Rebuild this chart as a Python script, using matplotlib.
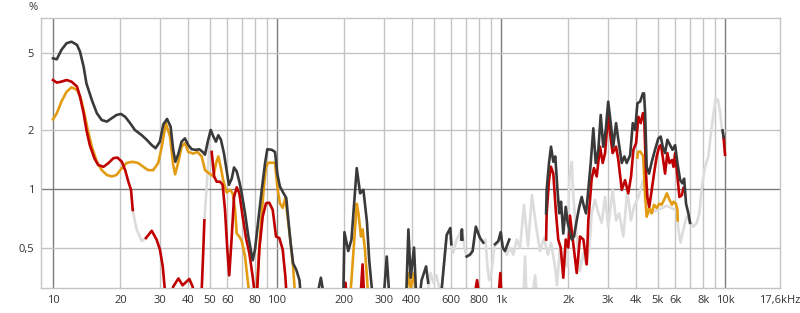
import numpy as np
import matplotlib
matplotlib.use("Agg")
from matplotlib import pyplot as plt

nan = np.nan

# total distortion (dark)
thd_f = [10, 10.4, 10.9, 11.5, 12.1, 12.8, 13.2, 13.7, 14.1, 14.9, 15.7, 16.5, 17.4, 18.3, 19.2,
         20.1, 21.0, 22.1, 23.2, 24.9, 26.2, 27.6, 28.7, 30.0, 31.1, 32.3, 33.5, 34.4, 35.2, 36.3,
         37.5, 38.8, 40.2, 41.6, 43.5, 45.0, 46.6, 47.7, 49.3, 50.6, 52.0, 53.4, 54.7, 56.2, 58.0,
         59.6, 61.0, 62.8, 64.3, 66.1, 67.9, 69.6, 72.0, 74.5, 76.3, 77.9, 79.8, 82.5, 85.5, 88.4,
         90.5, 94.7, 98.0, 100.3, 103, 107, 110, 112, 115, 118, 122, 126, 128,
         nan, 150, 157, 163,
         nan, 194, 198, 200, 208, 215, 227, 235, 243, 252, 258, 265, 268,
         nan, 299, 309, 318,
         nan, 377, 386, 395, 409, 417, 419,
         nan, 432, 442, 463, 473,
         nan, 535, 544, 572, 594, 600,
         nan, 664, 669, 673,
         nan, 703, 727, 747, 772, 806, 834,
         nan, 940, 973, 997, 1018, 1042, 1089,
         nan, 1590, 1599, 1638, 1672, 1712, 1747, 1783, 1820, 1853, 1897, 1945, 1985, 2069, 2118,
         2178, 2236, 2292, 2348, 2396, 2454, 2515, 2583, 2647, 2720, 2787, 2860, 2935, 3010, 3090,
         3170, 3263, 3340, 3460, 3555, 3640, 3770, 3876, 3970, 4065, 4177, 4300, 4350, 4400, 4470,
         4580, 4710, 4870, 5040, 5165, 5270, 5400, 5530, 5690, 5830, 5990, 6130, 6310, 6450, 6570,
         6700, 6860, 6980,
         nan, 9750, 9850]
thd_v = [4.69, 4.64, 5.18, 5.61, 5.71, 5.50, 5.08, 4.25, 3.49, 2.87, 2.45, 2.26, 2.22, 2.31, 2.40,
         2.43, 2.35, 2.18, 2.01, 1.89, 1.79, 1.68, 1.62, 1.75, 2.15, 2.29, 2.09, 1.59, 1.38, 1.52,
         1.75, 1.82, 1.68, 1.60, 1.59, 1.60, 1.55, 1.50, 1.79, 2.01, 1.86, 1.75, 1.89, 1.79, 1.52,
         1.25, 1.05, 1.13, 1.29, 1.23, 1.09, 0.95, 0.75, 0.57, 0.49, 0.43, 0.49, 0.69, 0.99, 1.35,
         1.60, 1.59, 1.55, 1.20, 1.03, 0.95, 0.90, 0.72, 0.53, 0.415, 0.384, 0.34, 0.27,
         nan, 0.27, 0.35, 0.27,
         nan, 0.27, 0.31, 0.60, 0.48, 0.55, 1.28, 0.95, 0.99, 0.68, 0.43, 0.31, 0.27,
         nan, 0.27, 0.45, 0.27,
         nan, 0.27, 0.62, 0.35, 0.50, 0.31, 0.27,
         nan, 0.27, 0.34, 0.40, 0.33,
         nan, 0.27, 0.31, 0.58, 0.63, 0.52,
         nan, 0.55, 0.62, 0.55,
         nan, 0.45, 0.46, 0.48, 0.64, 0.56, 0.53,
         nan, 0.52, 0.54, 0.60, 0.50, 0.48, 0.55,
         nan, 0.75, 0.99, 1.36, 1.65, 1.38, 1.47, 1.03, 0.75, 0.86, 0.59, 0.81, 0.67, 0.55, 0.57,
         0.69, 0.81, 0.91, 0.81, 0.75, 0.99, 1.36, 2.05, 1.36, 1.59, 2.40, 1.65, 2.01, 2.81, 2.18,
         1.65, 2.18, 1.79, 1.36, 1.47, 1.36, 1.49, 2.18, 2.01, 2.76, 2.81, 3.10, 3.10, 2.45, 1.30,
         1.20, 1.38, 1.59, 1.82, 1.86, 1.65, 1.53, 1.79, 1.68, 1.59, 1.68, 1.36, 1.11, 1.07, 1.13,
         0.84, 0.75, 0.67,
         nan, 2.0, 1.85]

# 2nd harmonic (red)
k2_f = [10, 10.4, 10.9, 11.5, 12.1, 12.8, 13.2, 13.7, 14.1, 14.6, 15.3, 15.9, 16.8, 17.7, 18.6,
        19.4, 20.3, 21.0, 21.7, 22.3, 22.7,
        nan, 26.0, 27.6, 29.0, 30.0, 30.9, 31.6, 32.0,
        nan, 33.8, 34.4, 36.3, 37.9, 40.6, 42.0, 42.8,
        nan, 46.1, 46.9, 47.4,
        nan, 51.1, 52.4, 53.8, 55.7, 57.2, 58.6, 60.0, 61.2, 62.8, 64.3, 66.1, 67.9, 70.3, 72.7,
        75.2, 77.9, 79.5, 81.4, 83.4, 86.3, 89.3, 92.4, 95.7, 99.0, 102.4, 106, 109, 110, 111,
        nan, 200, 202, 205,
        nan, 236, 241, 245,
        nan, 760, 782, 800,
        nan, 975, 993, 1005,
        nan, 1590, 1599, 1638, 1672, 1712, 1760, 1801, 1847, 1897, 1945, 1997, 2032, 2178, 2253,
        2332, 2413, 2454, 2540, 2600, 2675, 2767, 2845, 2915, 3010, 3070, 3150, 3263, 3340, 3460,
        3580, 3700, 3807, 3900, 4009, 4105, 4205, 4300, 4350, 4400, 4440, 4500, 4590, 4710, 4820,
        4955, 5080, 5180, 5270, 5400, 5530, 5650, 5800, 5890, 5990, 6130, 6260, 6420, 6520,
        nan, 9850, 10000]
k2_v = [3.63, 3.52, 3.56, 3.63, 3.56, 3.36, 2.98, 2.45, 2.01, 1.68, 1.44, 1.33, 1.30, 1.36, 1.44,
        1.45, 1.38, 1.25, 1.09, 0.99, 0.78,
        nan, 0.56, 0.61, 0.55, 0.49, 0.40, 0.30, 0.27,
        nan, 0.28, 0.315, 0.347, 0.32, 0.345, 0.315, 0.28,
        nan, 0.30, 0.49, 0.69,
        nan, 1.55, 1.16, 1.09, 1.09, 1.05, 0.78, 0.49, 0.36, 0.57, 0.91, 1.02, 0.95, 0.72, 0.56,
        0.47, 0.354, 0.29, 0.29, 0.49, 0.72, 0.845, 0.85, 0.78, 0.57, 0.56, 0.49, 0.354, 0.30, 0.27,
        nan, 0.28, 0.33, 0.28,
        nan, 0.28, 0.41, 0.28,
        nan, 0.28, 0.34, 0.28,
        nan, 0.28, 0.37, 0.28,
        nan, 0.55, 0.75, 1.11, 1.30, 1.20, 0.75, 0.55, 0.50, 0.35, 0.55, 0.50, 0.73, 0.37, 0.57,
        0.55, 0.41, 0.69, 1.13, 1.28, 1.16, 1.65, 1.36, 1.53, 2.45, 1.93, 1.53, 1.65, 1.41, 0.99,
        1.11, 0.95, 1.16, 1.59, 1.72, 2.35, 2.18, 2.45, 2.45, 1.65, 1.20, 0.91, 0.81, 0.99, 1.20,
        1.47, 1.65, 1.68, 1.47, 1.20, 1.53, 1.36, 1.41, 1.30, 1.53, 1.16, 0.91, 0.93, 1.01,
        nan, 1.85, 1.5]

# 3rd harmonic (orange)
k3_f = [10, 10.4, 10.9, 11.5, 12.1, 12.8, 13.3, 13.8, 14.3, 14.9, 15.7, 16.5, 17.4, 18.3, 19.2,
        20.3, 21.3, 22.6, 24.0, 25.3, 26.6, 28.0, 29.5, 30.6, 31.9, 33.3, 34.4, 35.1, 36.3, 37.5,
        38.8, 40.2, 42.3, 44.1, 46.1, 47.7, 49.9, 52.0, 53.4, 54.7, 56.2, 57.5, 59.6, 61.7, 63.4,
        65.0, 66.1, 67.9, 69.6, 72.0, 73.7, 75.2, 81.1, 84.0, 86.9, 89.3, 91.4, 98.0, 100.3, 103,
        106, 109, 112, 115, 118, 120, 121,
        nan, 212, 215, 227, 231, 237, 241, 247, 253, 255,
        nan, 378, 386, 395, 409, 417,
        nan, 4060, 4090, 4177, 4310, 4400, 4470, 4590, 4710, 4820, 4955, 5090, 5210, 5350, 5500,
        5650, 5800, 5890, 6040, 6130, 6150]
k3_v = [2.28, 2.45, 2.81, 3.16, 3.33, 3.23, 2.93, 2.45, 2.01, 1.65, 1.38, 1.25, 1.18, 1.16, 1.18,
        1.28, 1.36, 1.38, 1.36, 1.30, 1.25, 1.25, 1.36, 1.65, 2.18, 1.86, 1.33, 1.19, 1.38, 1.65,
        1.72, 1.55, 1.52, 1.55, 1.47, 1.25, 1.20, 1.16, 1.35, 1.47, 1.28, 1.11, 0.96, 0.99, 0.95,
        0.78, 0.59, 0.57, 0.54, 0.45, 0.354, 0.29, 0.29, 0.57, 0.95, 1.30, 1.365, 1.365, 1.03, 0.845,
        0.80, 0.90, 0.69, 0.53, 0.40, 0.30, 0.27,
        nan, 0.28, 0.34, 0.84, 0.75, 0.57, 0.62, 0.49, 0.33, 0.28,
        nan, 0.28, 0.37, 0.31, 0.37, 0.28,
        nan, 1.45, 1.55, 1.56, 1.48, 0.91, 0.72, 0.80, 0.75, 0.83, 0.80, 0.84, 0.83, 0.88, 0.95,
        0.88, 0.83, 0.86, 0.84, 0.78, 0.69]

# higher harmonics / masked parts (light grey)
kn_f = [22.7, 23.6, 24.9, 26.0,
        nan, 47.4, 48.7, 50.0,
        nan, 470, 485, 500, 515, 530, 544, 572, 594, 598, 612, 634, 669, 686, 703, 727, 747, 772,
        806, 834, 852, 870, 885, 903, 933, 973, 997, 1018, 1042, 1060, 1097, 1135, 1175, 1216,
        1267, 1320, 1375, 1433, 1493, 1556, 1620, 1672, 1742, 1778, 1833, 1892, 1977, 2016, 2069,
        2103, 2178, 2253, 2332, 2396, 2480, 2540, 2626, 2720, 2815, 2915, 3010, 3150, 3263, 3370,
        3515, 3665, 3800, 3925, 4105, 4315, 4470, 4600, 5000, 5500, 6000, 6130, 6170, 6330, 6520,
        6740, 6980, 7220, 7480, 7680, 7920, 8140, 8430, 8620, 8890, 9090, 9300, 9520, 9700, 9830,
        nan, 1260, 1280, 1300,
        nan, 1380, 1420, 1450]
kn_v = [0.78, 0.62, 0.54, 0.56,
        nan, 0.69, 1.10, 1.72,
        nan, 0.29, 0.37, 0.33, 0.36, 0.31, 0.31, 0.58, 0.63, 0.55, 0.47, 0.55, 0.62, 0.50, 0.45,
        0.46, 0.48, 0.64, 0.56, 0.53, 0.55, 0.40, 0.34, 0.36, 0.50, 0.54, 0.60, 0.50, 0.48, 0.46,
        0.50, 0.46, 0.55, 0.50, 0.83, 0.51, 0.93, 0.65, 0.48, 0.56, 0.46, 0.53, 0.40, 0.32, 0.50,
        0.43, 0.40, 1.11, 1.38, 0.91, 0.57, 0.38, 0.47, 0.41, 0.50, 0.75, 0.88, 0.75, 0.67, 0.91,
        0.64, 0.99, 0.69, 0.75, 0.57, 0.99, 0.69, 0.81, 0.91, 1.11, 1.0, 0.75, 0.78, 0.82, 0.78,
        0.74, 0.64, 0.53, 0.62, 0.72, 0.68, 0.64, 0.67, 0.75, 1.07, 1.30, 1.47, 1.86, 2.45, 2.92,
        2.87, 2.45, 2.01, 1.89,
        nan, 0.28, 0.45, 0.28,
        nan, 0.28, 0.36, 0.28]

grid_x = [10, 20, 30, 40, 50, 60, 70, 80, 90, 100, 200, 300, 400, 500, 600, 700, 800, 900,
          1000, 2000, 3000, 4000, 5000, 6000, 7000, 8000, 9000, 10000]
tick_x = [10, 20, 30, 40, 50, 60, 80, 100, 200, 300, 400, 600, 800, 1000, 2000, 3000, 4000,
          5000, 6000, 8000, 10000, 17600]
tick_x_labels = ['10', '20', '30', '40', '50', '60', '80', '100', '200', '300', '400', '600',
                 '800', '1k', '2k', '3k', '4k', '5k', '6k', '8k', '10k', '17,6kHz']
tick_y = [0.5, 1, 2, 5]
tick_y_labels = ['0,5', '1', '2', '5']

plt.rcParams['font.family'] = ['Open Sans', 'DejaVu Sans']

fig = plt.figure(figsize=(8, 3.13), dpi=100)
ax = fig.add_axes([41 / 800, 25 / 313, 739 / 800, 270 / 313])
ax.set_xscale('log')
ax.set_yscale('log')
ax.set_xlim(8.84, 17600)
ax.set_ylim(0.31, 7.56)

light = '#c4c4c4'
dark = '#7c7c7c'
for f in grid_x:
    ax.axvline(f, color=dark if f in (10, 100, 1000, 10000) else light, lw=1, zorder=1)
for v in tick_y:
    ax.axhline(v, color=dark if v == 1 else light, lw=1, zorder=1)

ax.plot(kn_f, kn_v, color='#dcdcdc', lw=1.9, zorder=2)
ax.plot(k3_f, k3_v, color='#e39b12', lw=1.9, zorder=3)
ax.plot(k2_f, k2_v, color='#c00000', lw=1.9, zorder=4)
ax.plot(thd_f, thd_v, color='#3a3a3a', lw=1.9, zorder=5)

ax.set_xticks(tick_x)
ax.set_xticklabels(tick_x_labels)
ax.set_xticks([], minor=True)
ax.set_yticks(tick_y)
ax.set_yticklabels(tick_y_labels)
ax.set_yticks([], minor=True)
ax.tick_params(length=0, labelsize=8, labelcolor='#333333')
ax.tick_params(axis='x', pad=5)
ax.tick_params(axis='y', pad=5)
for s in ax.spines.values():
    s.set_color(light)
    s.set_linewidth(1)

fig.text(33 / 800, 1 - 8 / 313, '%', ha='center', va='center', fontsize=8, color='#333333')

fig.savefig('out.png', dpi=100)
